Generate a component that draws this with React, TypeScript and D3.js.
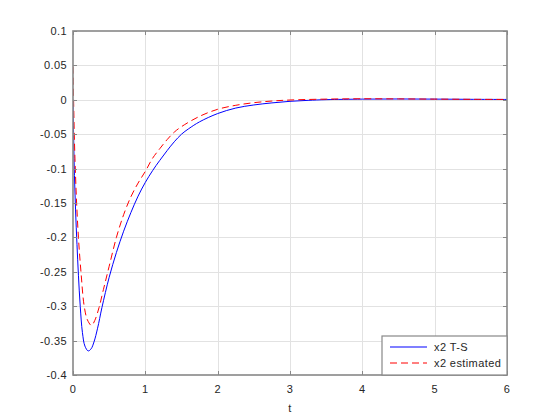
import * as d3 from "d3";
import { useEffect, useRef } from "react";

// x2 T-S (blue solid)
const tTS = [0, 0.01, 0.02, 0.035, 0.055, 0.075, 0.1, 0.13, 0.165, 0.21, 0.25, 0.29, 0.34, 0.4, 0.5, 0.6, 0.7, 0.8, 0.9, 1.0, 1.1, 1.2, 1.3, 1.4, 1.5, 1.6, 1.75, 2.0, 2.25, 2.5, 2.75, 3.0, 3.25, 3.5, 4.0, 4.5, 5.0, 5.5, 6.0];
const x2TS = [0, -0.06, -0.11, -0.16, -0.21, -0.255, -0.3, -0.338, -0.358, -0.365, -0.362, -0.352, -0.332, -0.302, -0.258, -0.222, -0.191, -0.164, -0.14, -0.12, -0.103, -0.088, -0.074, -0.061, -0.05, -0.042, -0.032, -0.02, -0.012, -0.0075, -0.0045, -0.0022, -0.0008, 0.0002, 0.001, 0.0012, 0.001, 0.0007, 0.0005];

// x2 estimated (red dashed)
const tEst = [0, 0.01, 0.02, 0.035, 0.05, 0.075, 0.11, 0.155, 0.2, 0.256, 0.3, 0.36, 0.42, 0.5, 0.6, 0.7, 0.8, 0.9, 1.0, 1.1, 1.2, 1.3, 1.4, 1.5, 1.75, 2.0, 2.25, 2.5, 2.75, 3.0, 3.5, 4.0, 4.5, 5.0, 5.5, 6.0];
const x2Est = [0.048, -0.01, -0.06, -0.11, -0.15, -0.2, -0.25, -0.3, -0.32, -0.328, -0.321, -0.302, -0.276, -0.242, -0.2, -0.167, -0.141, -0.121, -0.104, -0.085, -0.071, -0.058, -0.047, -0.039, -0.024, -0.0138, -0.008, -0.0042, -0.0018, -0.0003, 0.001, 0.0015, 0.0013, 0.001, 0.0007, 0.0005];

const xTicks = [0, 1, 2, 3, 4, 5, 6];
const yTicks = [0.1, 0.05, 0, -0.05, -0.1, -0.15, -0.2, -0.25, -0.3, -0.35, -0.4];
const yTickLabels = ["0.1", "0.05", "0", "-0.05", "-0.1", "-0.15", "-0.2", "-0.25", "-0.3", "-0.35", "-0.4"];
const legendLabels = ["x2 T-S", "x2 estimated"];
const xLabel = "t";

const font = "'Liberation Sans', Arial, sans-serif";

const App = () => {
  const chartRef = useRef(null);

  const margin = { top: 31, bottom: 45, left: 73, right: 53 };
  const width = 560;
  const height = 420;
  const x0 = margin.left;
  const x1 = width - margin.right;
  const y0 = margin.top;
  const y1 = height - margin.bottom;

  useEffect(() => {
    const svg = d3.select(chartRef.current);
    svg.selectAll("*").remove();

    const scaleX = d3.scaleLinear().domain([0, 6]).range([x0, x1]);
    const scaleY = d3.scaleLinear().domain([-0.4, 0.1]).range([y1, y0]);

    svg.append("rect").attr("width", width).attr("height", height).attr("fill", "#fff");

    svg.append("defs").append("clipPath").attr("id", "plotclip")
      .append("rect").attr("x", x0).attr("y", y0).attr("width", x1 - x0).attr("height", y1 - y0);

    // grid
    const grid = svg.append("g").attr("stroke", "#e2e2e2").attr("stroke-width", 1);
    xTicks.slice(1, -1).forEach(t => {
      const px = Math.round(scaleX(t)) + 0.5;
      grid.append("line").attr("x1", px).attr("x2", px).attr("y1", y0).attr("y2", y1);
    });
    yTicks.slice(1, -1).forEach(v => {
      const py = Math.round(scaleY(v)) + 0.5;
      grid.append("line").attr("x1", x0).attr("x2", x1).attr("y1", py).attr("y2", py);
    });

    const line = d3.line()
      .x(d => scaleX(d[0]))
      .y(d => scaleY(d[1]))
      .curve(d3.curveCatmullRom.alpha(0.5));

    const plot = svg.append("g").attr("clip-path", "url(#plotclip)");
    plot.append("path")
      .attr("d", line(tTS.map((t, i) => [t, x2TS[i]])))
      .attr("fill", "none").attr("stroke", "#0000ff").attr("stroke-width", 1);
    plot.append("path")
      .attr("d", line(tEst.map((t, i) => [t, x2Est[i]])))
      .attr("fill", "none").attr("stroke", "#ff0000").attr("stroke-width", 1)
      .attr("stroke-dasharray", "7,4");

    // box + ticks
    const axisColor = "#888";
    svg.append("rect")
      .attr("x", x0).attr("y", y0).attr("width", x1 - x0).attr("height", y1 - y0)
      .attr("fill", "none").attr("stroke", axisColor).attr("stroke-width", 1.6);

    const tickLen = 4;
    const ticks = svg.append("g").attr("stroke", axisColor).attr("stroke-width", 1);
    xTicks.forEach(t => {
      const px = Math.round(scaleX(t)) + 0.5;
      ticks.append("line").attr("x1", px).attr("x2", px).attr("y1", y1).attr("y2", y1 - tickLen);
      ticks.append("line").attr("x1", px).attr("x2", px).attr("y1", y0).attr("y2", y0 + tickLen);
    });
    yTicks.forEach(v => {
      const py = Math.round(scaleY(v)) + 0.5;
      ticks.append("line").attr("x1", x0).attr("x2", x0 + tickLen).attr("y1", py).attr("y2", py);
      ticks.append("line").attr("x1", x1).attr("x2", x1 - tickLen).attr("y1", py).attr("y2", py);
    });

    const labelStyle = (sel) => sel
      .attr("font-family", font)
      .attr("font-size", 11)
      .attr("letter-spacing", 0.4)
      .attr("fill", "#262626");

    xTicks.forEach(t => {
      svg.append("text")
        .attr("x", scaleX(t)).attr("y", y1 + 18)
        .attr("text-anchor", "middle")
        .text(String(t))
        .call(labelStyle);
    });
    yTicks.forEach((v, i) => {
      svg.append("text")
        .attr("x", x0 - 6).attr("y", scaleY(v) + 4)
        .attr("text-anchor", "end")
        .text(yTickLabels[i])
        .call(labelStyle);
    });

    svg.append("text")
      .attr("x", (x0 + x1) / 2).attr("y", y1 + 37)
      .attr("text-anchor", "middle")
      .text(xLabel)
      .call(labelStyle);

    // legend
    const lg = svg.append("g");
    const lx = 382;
    const ly = 336;
    lg.append("rect")
      .attr("x", lx).attr("y", ly).attr("width", x1 - lx).attr("height", y1 - ly)
      .attr("fill", "#fff").attr("stroke", axisColor).attr("stroke-width", 1.2);
    const styles = [
      { color: "#0000ff", dash: "none" },
      { color: "#ff0000", dash: "7,4" },
    ];
    legendLabels.forEach((lab, i) => {
      const cy = ly + 11 + i * 16;
      lg.append("path")
        .attr("d", `M390,${cy}H427`)
        .attr("fill", "none")
        .attr("stroke", styles[i].color).attr("stroke-width", 1.2)
        .attr("stroke-dasharray", styles[i].dash);
      lg.append("text")
        .attr("x", 434).attr("y", cy + 4)
        .text(lab)
        .call(labelStyle);
    });
  }, []);

  return (
    <svg
      ref={chartRef}
      width={width}
      height={height}
      style={{ position: "absolute", left: 0, top: 0 }}
    />
  );
};

export default App;
